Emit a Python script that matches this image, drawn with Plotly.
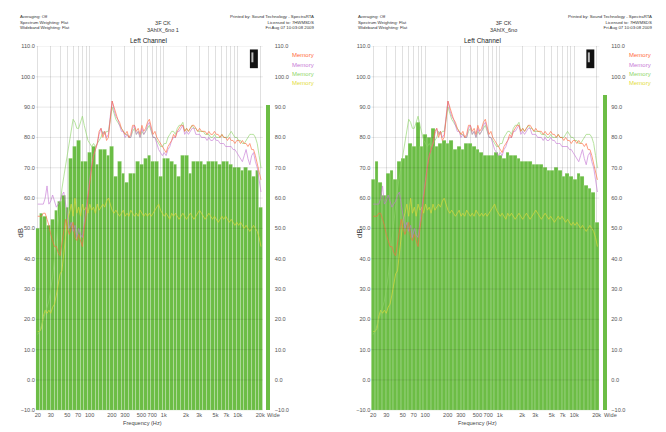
import numpy as np
import plotly.graph_objects as go

# ---------------- data ----------------
bars_left = [50, 55, 54, 51, 53, 56, 59, 61, 57, 73, 77, 79, 72, 72, 75, 77, 71, 76, 76, 74,
             77, 67, 72, 68, 65, 68, 68, 72, 71, 73, 74, 72, 72, 67, 73, 73, 72, 71, 67, 74,
             74, 68, 72, 72, 72, 71, 72, 72, 72, 71, 72, 72, 71, 70, 70, 69, 70, 69, 67, 69, 57]
bars_right = [66, 72, 65, 61, 68, 69, 66, 72, 73, 74, 78, 77, 85, 77, 81, 80, 83, 77, 78, 79,
              78, 79, 76, 77, 76, 78, 78, 77, 76, 75, 74, 74, 74, 75, 74, 73, 75, 74, 74, 73,
              72, 72, 72, 71, 71, 71, 70, 69, 69, 70, 69, 67, 68, 67, 66, 68, 67, 64, 63, 62, 52]
wide_left = [90.5]
wide_right = [93.8]
wide_label = "Wide"

mem_orange = [54, 54, 54, 55, 55, 53, 51, 48, 46, 44, 44, 42, 41, 45, 49, 53, 50, 48, 50, 52,
              47, 46, 48, 46, 44, 50, 54, 60, 66, 70, 74, 76, 78, 82, 83, 80, 82, 79, 80, 86,
              92, 90, 88, 86, 85, 83, 82, 81, 82, 80, 81, 84, 84, 82, 83, 81, 84, 82, 83, 85,
              86, 83, 81, 82, 80, 79, 78, 77, 76, 75, 77, 78, 79, 81, 80, 82, 83, 84, 84, 82,
              83, 82, 83, 84, 84, 83, 82, 83, 82, 82, 82, 81, 82, 81, 81, 82, 81, 81, 80, 81,
              80, 80, 79, 80, 79, 79, 78, 79, 79, 78, 79, 78, 78, 77, 78, 76, 76, 74, 71, 68, 66]
mem_purple = [58, 58, 58, 58, 60, 64, 58, 59, 61, 59, 57, 58, 59, 61, 62, 58, 53, 50, 52, 49,
              51, 47, 50, 48, 47, 52, 55, 60, 66, 71, 74, 76, 78, 81, 83, 81, 82, 80, 81, 87,
              92, 89, 87, 86, 84, 82, 82, 80, 81, 80, 80, 83, 84, 81, 82, 80, 83, 81, 82, 84,
              85, 82, 80, 80, 78, 76, 75, 74, 75, 74, 76, 77, 79, 80, 80, 82, 82, 83, 84, 81,
              82, 81, 82, 83, 83, 81, 81, 81, 80, 80, 80, 79, 80, 79, 79, 80, 79, 79, 78, 78,
              78, 77, 77, 77, 77, 76, 76, 75, 74, 73, 72, 74, 76, 73, 71, 74, 75, 72, 70, 66, 62]
mem_green = [15, 16, 18, 20, 22, 24, 26, 30, 34, 40, 46, 52, 58, 63, 67, 71, 75, 78, 82, 86,
             85, 83, 83, 85, 87, 84, 81, 79, 78, 77, 78, 77, 78, 79, 80, 82, 81, 82, 82, 86,
             90, 88, 86, 85, 84, 83, 82, 81, 81, 80, 80, 82, 83, 81, 82, 80, 82, 81, 82, 83,
             84, 82, 80, 80, 79, 78, 77, 77, 78, 78, 80, 81, 82, 82, 81, 83, 84, 84, 85, 82,
             83, 82, 83, 84, 83, 83, 82, 82, 82, 82, 81, 81, 81, 80, 80, 81, 80, 80, 80, 81,
             80, 80, 80, 81, 82, 81, 80, 80, 79, 79, 78, 78, 79, 80, 81, 81, 81, 80, 78, 74, 70]
mem_yellow = [16, 16, 17, 21, 23, 22, 23, 22, 24, 25, 28, 32, 35, 36, 42, 48, 53, 55, 58, 54,
              60, 55, 57, 54, 58, 56, 57, 55, 58, 56, 57, 55, 58, 56, 57, 58, 57, 59, 60, 58,
              56, 55, 56, 55, 54, 55, 56, 54, 55, 54, 56, 55, 54, 55, 54, 56, 55, 54, 55, 54,
              55, 54, 55, 56, 57, 58, 56, 55, 54, 55, 54, 53, 55, 54, 55, 54, 53, 54, 55, 54,
              53, 54, 55, 54, 53, 54, 55, 56, 55, 54, 53, 54, 55, 54, 53, 54, 53, 52, 53, 54,
              53, 54, 53, 52, 53, 52, 51, 52, 51, 52, 51, 50, 51, 50, 49, 50, 51, 50, 49, 47, 44]

freq_ticks = [20, 30, 50, 70, 100, 200, 300, 500, 700, 1000, 2000, 3000, 5000, 7000, 10000, 20000]
freq_labels = ["20", "30", "50", "70", "100", "200", "300", "500", "700", "1k", "2k", "3k",
               "5k", "7k", "10k", "20k"]
db_ticks = list(range(-10, 111, 10))

mem_names = ["Memory", "Memory", "Memory", "Memory"]
mem_colors = ["#ff6a3c", "#c77ad6", "#8fd66a", "#e3dc3c"]

# ---------------- geometry ----------------
# the page body has an 8px default margin, so the figure is drawn 8px in from the window
PAGE_OFF = 8
W, H = 666 - PAGE_OFF, 432 - PAGE_OFF
f0 = np.log10(20)
step6 = np.log10(2) / 6
step12 = np.log10(2) / 12
bar_x = [f0 + k * step6 for k in range(len(bars_left))]
mem_x = [f0 + n * step12 for n in range(len(mem_orange))]
xr = [f0 - step6 / 2, bar_x[-1] + step6 / 2]
minor_vals = [np.log10(m * 10 ** e) for e in range(1, 5) for m in range(1, 10)
              if 20 <= m * 10 ** e <= 20000]

def px(x):
    return (x - PAGE_OFF) / W

def py(y):
    return 1 - (y - PAGE_OFF) / H

GREEN = "#6cbd45"
TICKFONT = dict(family="Liberation Sans, Arial", size=5.6, color="#555555")

fig = go.Figure()
layout = dict(width=W, height=H, margin=dict(l=0, r=0, t=0, b=0),
              paper_bgcolor="white", plot_bgcolor="white", showlegend=False,
              bargap=0, font=dict(family="Liberation Sans, Arial"))
annotations = []
shapes = []

panels = [
    dict(bars=bars_left, wide=wide_left, off=0, x0=35, x1=263, w0=265.5, w1=271,
         title="3F CK<br>3AhIX_6no 1", tcx=163, lcx=148, fcx=142, legx=316),
    dict(bars=bars_right, wide=wide_right, off=340, x0=372, x1=601, w0=603.5, w1=609,
         title="3F CK<br>3AhIX_6no", tcx=505, lcx=484, fcx=479, legx=655),
]
ydom = [py(413), py(44)]

for i, p in enumerate(panels):
    mx = "x" if i == 0 else "x3"
    my = "y" if i == 0 else "y3"
    wx = "x2" if i == 0 else "x4"
    wy = "y2" if i == 0 else "y4"
    mxk = "xaxis" if i == 0 else "xaxis3"
    myk = "yaxis" if i == 0 else "yaxis3"
    wxk = "xaxis2" if i == 0 else "xaxis4"
    wyk = "yaxis2" if i == 0 else "yaxis4"

    fig.add_trace(go.Bar(x=bar_x, y=[v + 10 for v in p["bars"]], base=-10, width=step6,
                         xaxis=mx, yaxis=my,
                         marker=dict(color=GREEN, line=dict(color="rgba(255,255,255,0.35)", width=0.6))))
    for vals, col in zip([mem_yellow, mem_green, mem_purple, mem_orange],
                         [mem_colors[3], mem_colors[2], mem_colors[1], mem_colors[0]]):
        fig.add_trace(go.Scatter(x=mem_x, y=vals, mode="lines", xaxis=mx, yaxis=my,
                                 line=dict(color=col, width=0.8), opacity=0.8))
    fig.add_trace(go.Bar(x=[wide_label], y=[v + 10 for v in p["wide"]], base=-10, width=0.75,
                         xaxis=wx, yaxis=wy, marker=dict(color=GREEN, line=dict(width=0))))

    layout[mxk] = dict(domain=[px(p["x0"]), px(p["x1"])], range=xr, anchor=my,
                       tickmode="array", tickvals=[np.log10(f) for f in freq_ticks],
                       ticktext=freq_labels, tickfont=TICKFONT, tickangle=0, ticks="",
                       ticklabelstandoff=0,
                       showgrid=True, gridcolor="#e0e0e0", gridwidth=0.6, zeroline=False,
                       showline=False, fixedrange=True,
                       minor=dict(tickmode="array", tickvals=minor_vals, showgrid=True,
                                  gridcolor="#e0e0e0", gridwidth=0.6))
    layout[myk] = dict(domain=ydom, range=[-10, 110], anchor=mx, tickmode="array",
                       tickvals=db_ticks, tickformat=".1f", tickfont=TICKFONT, ticks="",
                       showgrid=False, zeroline=False, showline=False, fixedrange=True)
    layout[wxk] = dict(domain=[px(p["w0"]), px(p["w1"])], range=[-0.5, 0.5], anchor=wy,
                       showticklabels=False, ticks="",
                       showgrid=False, zeroline=False, showline=False, fixedrange=True)
    layout[wyk] = dict(domain=ydom, range=[-10, 110], anchor=wx, side="right",
                       tickmode="array", tickvals=db_ticks, tickformat=".1f",
                       tickfont=TICKFONT, ticks="", ticklabelstandoff=3, showgrid=False,
                       zeroline=False, showline=False, fixedrange=True)

    # horizontal grid drawn over the bars
    for t in db_ticks:
        shapes.append(dict(type="line", xref=f"{mx} domain", yref=my, x0=0, x1=1, y0=t, y1=t,
                           line=dict(color="rgba(0,0,0,0.12)", width=0.8), layer="above"))
    # black badge in the top-right corner
    shapes.append(dict(type="rect", xref="paper", yref="paper",
                       x0=px(p["x1"] - 13), x1=px(p["x1"] - 5), y0=py(66), y1=py(47),
                       fillcolor="#111111", line=dict(width=0), layer="above"))
    shapes.append(dict(type="rect", xref="paper", yref="paper",
                       x0=px(p["x1"] - 11.5), x1=px(p["x1"] - 9.5), y0=py(60), y1=py(50),
                       fillcolor="#bbbbbb", line=dict(width=0), layer="above"))

    o = p["off"]
    hfont = dict(size=4.3, color="#333333")
    annotations += [
        dict(x=px(17 + o), y=py(9), xref="paper", yref="paper", xanchor="left", yanchor="top",
             align="left", showarrow=False, font=hfont,
             text="Averaging: Off<br>Spectrum Weighting: Flat<br>Wideband Weighting: Flat"),
        dict(x=px(316 + o), y=py(9), xref="paper", yref="paper", xanchor="right", yanchor="top",
             align="right", showarrow=False, font=hfont,
             text="Printed by: Sound Technology - SpectraRTA<br>Licensed to: 7HWMSDS<br>Fri Aug 07 10:03:08 2009"),
        dict(x=px(p["tcx"]), y=py(15), xref="paper", yref="paper", xanchor="center",
             yanchor="top", showarrow=False, font=dict(size=5.5, color="#333333"),
             text=p["title"]),
        dict(x=px(p["lcx"]), y=py(38), xref="paper", yref="paper", xanchor="center",
             yanchor="middle", showarrow=False, font=dict(size=6.5, color="#222222"),
             text="Left Channel"),
        dict(x=px(p["fcx"]), y=py(426), xref="paper", yref="paper", xanchor="center",
             yanchor="middle", showarrow=False, font=dict(size=5.6, color="#444444"),
             text="Frequency (Hz)"),
        dict(x=px(20 + o), y=py(233), xref="paper", yref="paper", xanchor="center",
             yanchor="middle", showarrow=False, textangle=-90,
             font=dict(size=8, color="#333333"), text="dB"),
        dict(x=px(p["w0"]), y=py(418), xref="paper", yref="paper", xanchor="left",
             yanchor="middle", showarrow=False, font=TICKFONT, text=wide_label),
    ]
    for j, (nm, col) in enumerate(zip(mem_names, mem_colors)):
        annotations.append(dict(x=px(p["legx"]), y=py(53 + 9.3 * j), xref="paper",
                                yref="paper", xanchor="right", yanchor="middle",
                                showarrow=False, font=dict(size=6, color=col), text=nm))

layout["annotations"] = annotations
layout["shapes"] = shapes
fig.update_layout(**layout)
fig.write_html("out.html")
